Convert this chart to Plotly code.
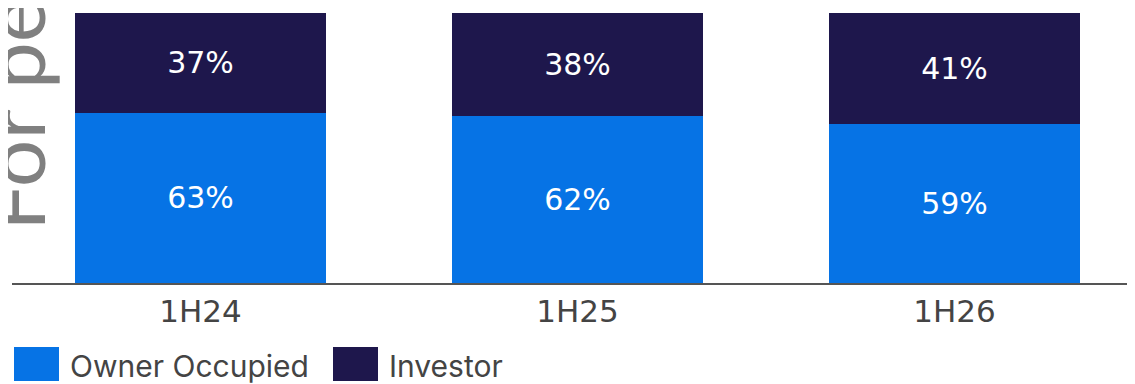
import plotly.graph_objects as go

categories = ["1H24", "1H25", "1H26"]
owner_occupied = [63, 62, 59]
investor = [37, 38, 41]
series_names = ["Owner Occupied", "Investor"]
colors = ["#0673E5", "#1E174C"]

W, H = 1135, 384
OFF = 8  # page body margin offset
ml, mr, mt, mb = 4, 0, 5, 109
pw = W - ml - mr
ph = H - mt - mb

def px2paper_x(sx):
    return (sx - OFF - ml) / pw

def px2paper_y(sy):
    return (H - mb - (sy - OFF)) / ph

fig = go.Figure()
for name, vals, col in zip(series_names, [owner_occupied, investor], colors):
    fig.add_trace(go.Bar(
        x=categories, y=vals, name=name,
        marker=dict(color=col, line=dict(width=0)),
        texttemplate="%{y}%", textposition="inside", insidetextanchor="middle",
        textfont=dict(family="DejaVu Sans", size=30, color="white"),
        showlegend=False,
    ))

fig.update_layout(
    width=W, height=H, barmode="stack", bargap=0.334,
    margin=dict(l=ml, r=mr, t=mt, b=mb),
    plot_bgcolor="white", paper_bgcolor="white",
    uniformtext=dict(minsize=8, mode="show"),
    xaxis=dict(range=[-0.5, 2.5], showline=True, linecolor="#555555", linewidth=2,
               tickfont=dict(family="DejaVu Sans", size=31, color="#444444"),
               ticks="", showgrid=False),
    yaxis=dict(range=[0, 100], visible=False, showgrid=False),
)

# legend drawn manually
leg_items = [(14, 59, 70), (333, 378, 389)]
for (x0, x1, tx), name, col in zip(leg_items, series_names, colors):
    fig.add_shape(type="rect", xref="paper", yref="paper",
                  x0=px2paper_x(x0), x1=px2paper_x(x1),
                  y0=px2paper_y(381), y1=px2paper_y(347),
                  fillcolor=col, line=dict(width=0))
    fig.add_annotation(text=name, xref="paper", yref="paper",
                       x=px2paper_x(tx - 2), y=px2paper_y(366), xanchor="left", yanchor="middle",
                       showarrow=False, font=dict(family="Inter", size=30, color="#444444"))

# clipped vertical title at left edge
fig.add_annotation(text="For personal use", xref="paper", yref="paper",
                   x=px2paper_x(-40), y=px2paper_y(233), xanchor="left", yanchor="bottom",
                   textangle=-90, showarrow=False,
                   font=dict(family="Lato", size=84, color="#808080"))

fig.write_html("out.html")
